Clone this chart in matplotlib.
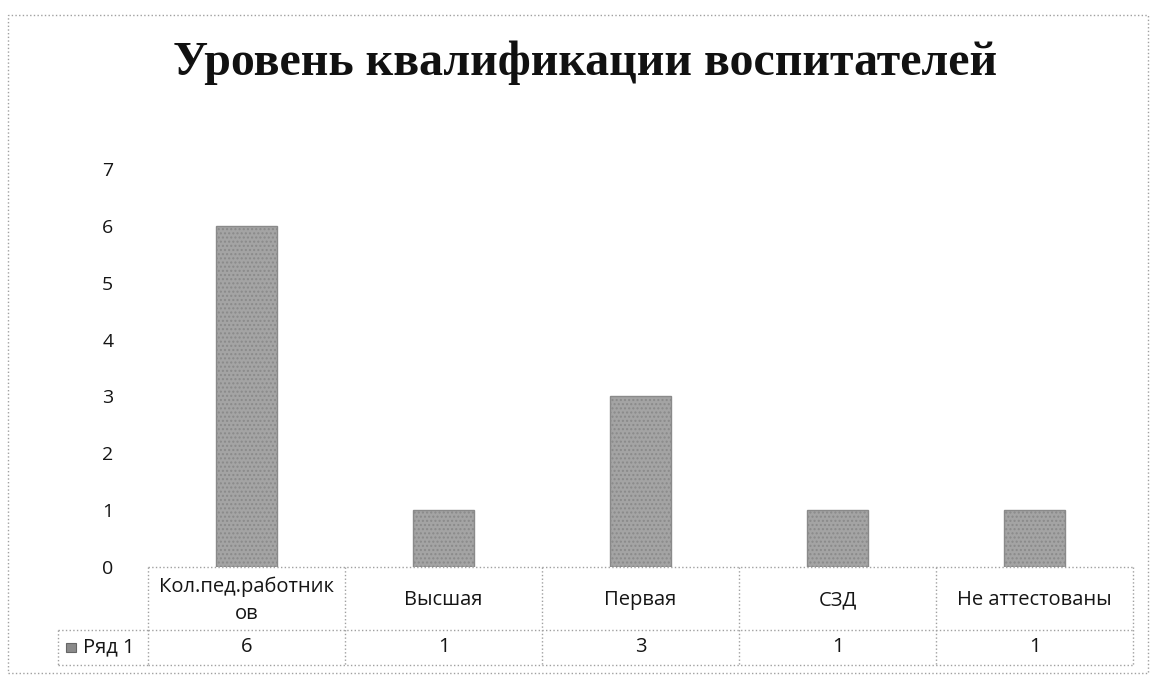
import matplotlib.pyplot as plt
import matplotlib.transforms as mtransforms
from matplotlib.patches import Rectangle

# =========================
# DATA
# =========================

categories = [
    "Кол.пед.работник\nов",
    "Высшая",
    "Первая",
    "СЗД",
    "Не аттестованы",
]

values = [6, 1, 3, 1, 1]

series_name = "Ряд 1"

title = "Уровень квалификации воспитателей"

y_ticks = [0, 1, 2, 3, 4, 5, 6, 7]

# =========================
# FIGURE
# =========================

W, H = 1150, 675

plt.rcParams["hatch.color"] = "#8c8c8c"

fig = plt.figure(figsize=(W / 100, H / 100), dpi=100)
fig.patch.set_facecolor("white")

left, right = 148, 1133
top, bottom = 169, 567

ax = fig.add_axes([
    left / W,
    (H - bottom) / H,
    (right - left) / W,
    (bottom - top) / H,
])

x = list(range(len(categories)))

text_kw = dict(family="Open Sans", color="#151515")

# =========================
# BARS
# =========================

ax.bar(
    x,
    values,
    width=0.31,
    color="#a4a4a4",
    edgecolor="#8a8a8a",
    linewidth=1,
    hatch="....",
    zorder=3,
)

ax.set_xlim(-0.5, len(categories) - 0.5)
ax.set_ylim(0, 7)
ax.set_yticks(y_ticks)
ax.set_yticklabels([str(t) for t in y_ticks], fontsize=14, **text_kw)
ax.tick_params(axis="y", length=0, pad=25)
ax.set_xticks([])

for s in ax.spines.values():
    s.set_visible(False)

# =========================
# DATA TABLE
# =========================

trans = mtransforms.blended_transform_factory(ax.transData, ax.transAxes)
ax_h = bottom - top
row1 = -(630 - bottom) / ax_h
row2 = -(665 - bottom) / ax_h
legend_left = (58 - left) / (right - left)

line_kw = dict(color="#a0a0a0", linestyle=":", linewidth=1, clip_on=False)

# horizontal lines
ax.plot([-0.5, len(categories) - 0.5], [0, 0], transform=trans, **line_kw)
ax.plot([-0.5, len(categories) - 0.5], [row2, row2], transform=trans, **line_kw)
ax.plot([0, 1], [row1, row1], transform=ax.transAxes, **line_kw)
ax.plot([legend_left, 0], [row1, row1], transform=ax.transAxes, **line_kw)
ax.plot([legend_left, 0], [row2, row2], transform=ax.transAxes, **line_kw)
ax.plot([legend_left, legend_left], [row1, row2], transform=ax.transAxes, **line_kw)

# vertical lines
for i in range(len(categories) + 1):
    ax.plot([i - 0.5, i - 0.5], [0, row2], transform=trans, **line_kw)

for i, (cat, val) in enumerate(zip(categories, values)):
    ax.text(
        i, row1 / 2 - 0.005, cat,
        transform=trans, ha="center", va="center",
        fontsize=14.5, linespacing=1.45, **text_kw
    )
    ax.text(
        i, (row1 + row2) / 2, str(val),
        transform=trans, ha="center", va="center",
        fontsize=14.5, **text_kw
    )

# legend key
ax.add_patch(Rectangle(
    ((66 - left) / (right - left), (row1 + row2) / 2 - 0.0125),
    10 / (right - left), 0.025,
    transform=ax.transAxes, clip_on=False,
    facecolor="#8a8a8a", edgecolor="#666666", linewidth=0.8,
))
ax.text(
    (83 - left) / (right - left), (row1 + row2) / 2, series_name,
    transform=ax.transAxes, ha="left", va="center",
    fontsize=14.5, **text_kw
)

# =========================
# TITLE
# =========================

fig.text(
    585 / W, 1 - 63 / H, title,
    ha="center", va="center",
    fontsize=34.5, fontweight="bold",
    family="Liberation Serif", color="#111111",
)

# =========================
# OUTER BORDER
# =========================

fig.add_artist(Rectangle(
    (8 / W, 2 / H), 1140 / W, (673 - 15) / H,
    transform=fig.transFigure, fill=False,
    edgecolor="#a0a0a0", linestyle=":", linewidth=1,
))

fig.savefig("out.png", dpi=100)
plt.close()
